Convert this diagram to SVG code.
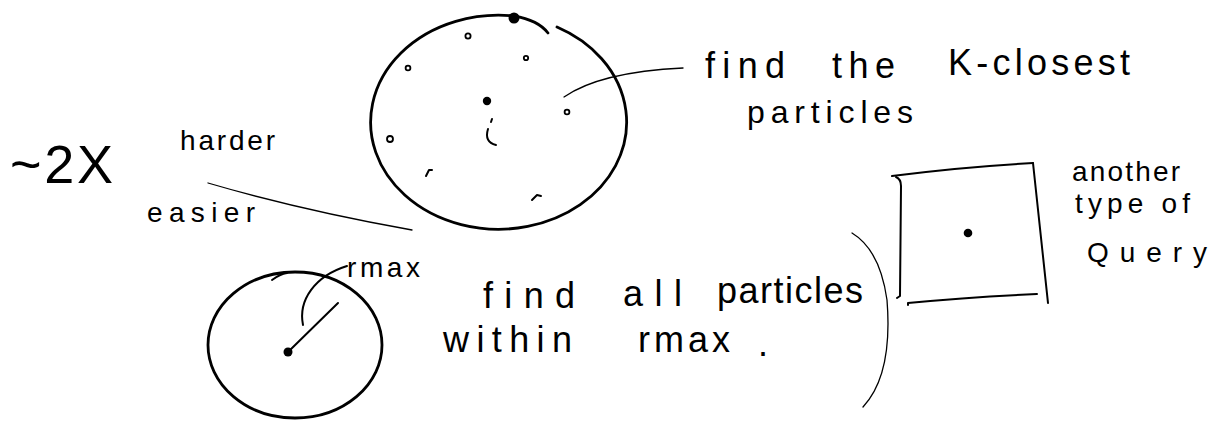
<svg xmlns="http://www.w3.org/2000/svg" width="1217" height="424" viewBox="0 0 1217 424">
<style>
.ink{fill:none;stroke:#000;stroke-linecap:round;stroke-linejoin:round}
.thick{stroke-width:2.8}
.mid{stroke-width:2}
.thin{stroke-width:1.3}
.dot{fill:#000}
.od{fill:none;stroke:#000;stroke-width:1.8}
text{font-family:"Liberation Sans","DejaVu Sans",sans-serif;fill:#000}
.big{font-size:36px}
.med{font-size:32px}
.sm{font-size:28px}
</style>
<rect width="1217" height="424" fill="#fff"/>
<g id="knn-query">
<path class="ink thick" d="M557,27 A128,107 0 1,1 514,16 Q538,20 548,33"/>
<circle class="dot" cx="514" cy="18" r="5.5"/>
<circle class="od" cx="468" cy="36" r="2.6"/>
<circle class="od" cx="526" cy="58" r="2.2"/>
<circle class="od" cx="408" cy="68" r="2.4"/>
<circle class="dot" cx="487" cy="101" r="4.2"/>
<circle class="od" cx="567" cy="112" r="2.4"/>
<circle class="od" cx="390" cy="139" r="3"/>
<path class="ink mid" d="M492,119 L491,122 M488,129 Q484,142 496,145"/>
<path class="ink mid" d="M426,176 L429,170 L432,170"/>
<path class="ink mid" d="M532,200 L537,195 L541,196"/>
</g>
<g id="radius-query">
<ellipse class="ink thick" cx="295" cy="345" rx="87" ry="73"/>
<path class="ink mid" d="M272,280 Q280,274 287,273"/>
<circle class="dot" cx="288" cy="352" r="4.5"/>
<path class="ink mid" d="M288,352 L338,303"/>
</g>
<g id="box-query">
<path class="ink mid" d="M892,176 Q960,167 1033,163"/>
<path class="ink mid" d="M896,177 Q901,179 901,186 L900,296 L897,298"/>
<path class="ink mid" d="M908,305 L908,303 Q970,297 1037,294"/>
<path class="ink mid" d="M1033,163 Q1040,230 1048,303"/>
<circle class="dot" cx="968" cy="233" r="4.3"/>
</g>
<g id="connectors">
<path class="ink thin" d="M564,97 Q600,72 683,68"/>
<path class="ink thin" d="M208,183 Q300,210 412,230"/>
<path class="ink mid" d="M303,325 C298,300 315,276 347,266"/>
<path class="ink thin" d="M852,233 Q880,250 887,300 Q893,375 863,407"/>
</g>
<g id="labels">
<text class="big" x="705" y="78" textLength="80" lengthAdjust="spacing">find</text>
<text class="big" x="832" y="78" textLength="63" lengthAdjust="spacing">the</text>
<text class="big" x="948" y="75" textLength="182" lengthAdjust="spacing">K-closest</text>
<text class="med" x="747" y="123" textLength="166" lengthAdjust="spacing">particles</text>
<text x="10" y="183" font-size="54" textLength="103" lengthAdjust="spacing">~2X</text>
<text class="sm" x="180" y="150" textLength="95" lengthAdjust="spacing">harder</text>
<text class="sm" x="147" y="222" textLength="108" lengthAdjust="spacing">easier</text>
<text class="sm" x="347" y="277" textLength="73" lengthAdjust="spacing">rmax</text>
<text class="big" x="483" y="308" textLength="92" lengthAdjust="spacing">find</text>
<text class="big" x="623" y="306" textLength="59" lengthAdjust="spacing">all</text>
<text class="big" x="717" y="303" textLength="146" lengthAdjust="spacing">particles</text>
<text class="big" x="443" y="352" textLength="129" lengthAdjust="spacing">within</text>
<text class="big" x="638" y="352" textLength="92" lengthAdjust="spacing">rmax</text>
<text class="big" x="758" y="356">.</text>
<text class="sm" x="1072" y="181" textLength="108" lengthAdjust="spacing">another</text>
<text class="sm" x="1075" y="213" textLength="115" lengthAdjust="spacing">type of</text>
<text class="sm" x="1087" y="262" textLength="120" lengthAdjust="spacing">Query</text>
</g>
</svg>
